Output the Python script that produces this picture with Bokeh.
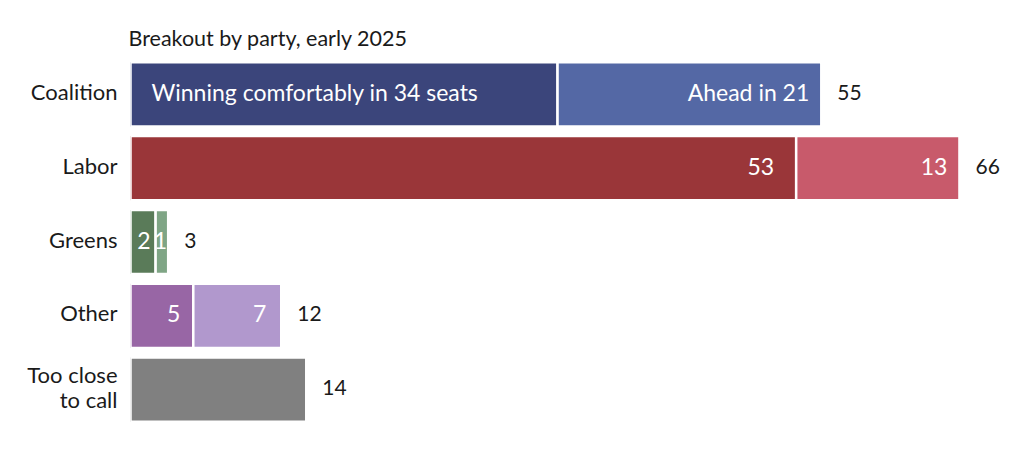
from bokeh.plotting import figure
from bokeh.models import Range1d, FixedTicker, ColumnDataSource, CustomJSTickFormatter
from bokeh.embed import file_html
from bokeh.resources import INLINE
from bokeh.core.properties import value

# ---- data ----
parties = ["Coalition", "Labor", "Greens", "Other", "Too close to call"]
party_labels = ["Coalition", "Labor", "Greens", "Other", "Too close\nto call"]
firm = [34, 53, 2, 5, 14]
ahead = [21, 13, 1, 7, 0]
totals = [55, 66, 3, 12, 14]
firm_text = ["Winning comfortably in 34 seats", "53", "2", "5", ""]
ahead_text = ["Ahead in 21", "13", "1", "7", ""]
firm_colors = ["#3b457b", "#9a3639", "#5a7b59", "#9866a5", "#808080"]
ahead_colors = ["#5468a5", "#c85a6b", "#7fa585", "#b198cd", "#808080"]
title_text = "Breakout by party, early 2025"

FONT = "Lato"
rows = list(range(len(parties)))

p = figure(width=1024, height=464, output_backend="svg", toolbar_location=None,
           x_range=Range1d(0, (1024 - 130) / 12.56), y_range=Range1d(4.5, -0.5),
           min_border_left=130, min_border_right=0, min_border_top=57, min_border_bottom=38)
p.outline_line_color = None
p.xgrid.visible = False
p.ygrid.visible = False
p.xaxis.visible = False
p.background_fill_color = "white"

p.title.text = title_text
p.title.align = "left"
p.title.text_font = FONT
p.title.text_font_size = "21.5px"
p.title.text_font_style = "normal"
p.title.text_color = "#1a1a1a"
p.title.offset = -2
p.title.standoff = 14

ya = p.yaxis[0]
ya.ticker = FixedTicker(ticks=[r - 0.04 for r in rows])
ya.formatter = CustomJSTickFormatter(args=dict(labels=party_labels),
                                     code="return labels[Math.round(tick)];")
ya.axis_line_color = None
ya.major_tick_line_color = None
ya.minor_tick_line_color = None
ya.major_tick_out = 0
ya.major_tick_in = 0
ya.major_label_standoff = 13
ya.major_label_text_font = FONT
ya.major_label_text_font_size = "22px"
ya.major_label_text_color = "#1a1a1a"
ya.major_label_text_line_height = 0.92

firm_src = ColumnDataSource(dict(y=rows, left=[0] * 5, right=firm, color=firm_colors))
ahead_right = [f + a for f, a in zip(firm, ahead)]
ahead_src = ColumnDataSource(dict(y=rows, left=firm, right=ahead_right, color=ahead_colors))

p.hbar(y="y", left="left", right="right", height=0.87, fill_color="color",
       line_color="white", line_width=2.5, source=firm_src)
p.hbar(y="y", left="left", right="right", height=0.87, fill_color="color",
       line_color="white", line_width=2.5, source=ahead_src)

IN_SIZE = "23px"
YO = -2
# inner labels
p.text(x=[0], y=[0], text=[firm_text[0]], text_align="left", text_baseline="middle",
       x_offset=21, y_offset=YO, text_color="white", text_font=value(FONT), text_font_size=IN_SIZE)
p.text(x=[firm[1]], y=[1], text=[firm_text[1]], text_align="right", text_baseline="middle",
       x_offset=-22, y_offset=YO, text_color="white", text_font=value(FONT), text_font_size=IN_SIZE)
p.text(x=[firm[3]], y=[3], text=[firm_text[3]], text_align="right", text_baseline="middle",
       x_offset=-13, y_offset=YO, text_color="white", text_font=value(FONT), text_font_size=IN_SIZE)
p.text(x=[firm[2]], y=[2], text=[firm_text[2]], text_align="right", text_baseline="middle",
       x_offset=-5, y_offset=YO, text_color="white", text_font=value(FONT), text_font_size=IN_SIZE)
p.text(x=[ahead_right[i] for i in range(2)], y=rows[:2], text=ahead_text[:2],
       text_align="right", text_baseline="middle", x_offset=-12, y_offset=YO,
       text_color="white", text_font=value(FONT), text_font_size=IN_SIZE)
p.text(x=[ahead_right[2]], y=[2], text=[ahead_text[2]],
       text_align="right", text_baseline="middle", x_offset=-1, y_offset=YO,
       text_color="white", text_font=value(FONT), text_font_size=IN_SIZE)
p.text(x=[ahead_right[3]], y=[3], text=[ahead_text[3]],
       text_align="right", text_baseline="middle", x_offset=-15, y_offset=YO,
       text_color="white", text_font=value(FONT), text_font_size=IN_SIZE)

# totals
p.text(x=totals, y=rows, text=[str(t) for t in totals], text_align="left",
       text_baseline="middle", x_offset=16, y_offset=YO, text_color="#1a1a1a",
       text_font=value(FONT), text_font_size="21px")

open("out.html", "w").write(file_html(p, INLINE))
